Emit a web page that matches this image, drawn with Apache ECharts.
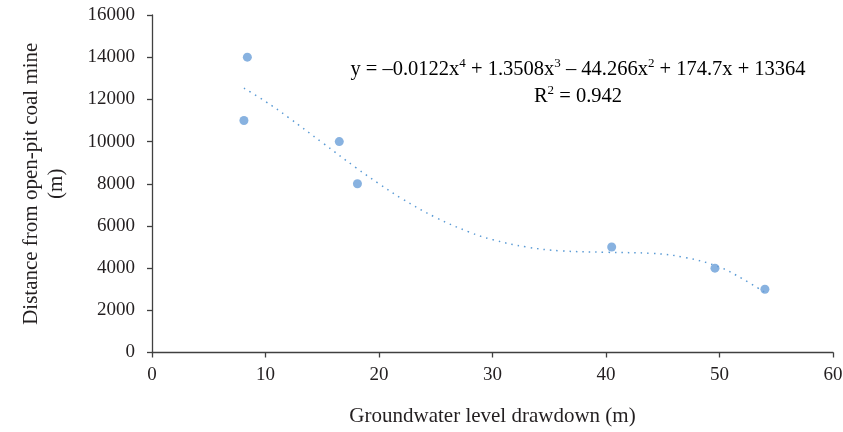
<!DOCTYPE html>
<html><head><meta charset="utf-8">
<script src="https://cdn.jsdelivr.net/npm/echarts@6/dist/echarts.min.js"></script>
<style>html,body{margin:0;padding:0;background:#fff}#c{width:843px;height:432px}</style>
</head><body><div id="c"></div>
<script>
// Observed points: groundwater drawdown (m) vs distance (m)
var drawdown = [8.4, 8.1, 16.5, 18.1, 40.5, 49.6, 54.0];
var distance = [14000, 11000, 10000, 8000, 5000, 4000, 3000];
// Trend curve
var trendX = [8.1, 10, 12, 15, 18, 20, 22, 25, 28, 30, 33, 36, 40, 44, 47, 50, 52, 54.0];
var trendY = [12530, 11900, 11150, 9950, 8750, 8000, 7300, 6400, 5700, 5350, 5000, 4820, 4750, 4700, 4500, 4050, 3500, 2850];
var xTicks = [0, 10, 20, 30, 40, 50, 60];
var yTicks = [0, 2000, 4000, 6000, 8000, 10000, 12000, 14000, 16000];
var xTitle = 'Groundwater level drawdown (m)';
var yTitle = 'Distance from open-pit coal mine\n(m)';

var font = '"Liberation Serif", "DejaVu Serif", serif';
var txt = '#231f20';
var chart = echarts.init(document.getElementById('c'), null, {renderer: 'canvas'});
var eqRich = {
  n: {fontSize: 20.5, fontFamily: font, color: txt, lineHeight: 24, verticalAlign: 'bottom'},
  s: {fontSize: 13, fontFamily: font, color: txt, lineHeight: 24, verticalAlign: 'top', padding: [1, 0, 0, 0]}
};
var equationRich = '{n|y = –0.0122x}{s|4}{n| + 1.3508x}{s|3}{n| – 44.266x}{s|2}{n| + 174.7x + 13364}';
var rRich = '{n|R}{s|2}{n| = 0.942}';
chart.setOption({
  animation: false,
  textStyle: {fontFamily: font},
  grid: {left: 152, right: 10, top: 15, bottom: 79.5, containLabel: false, outerBoundsMode: 'none'},
  xAxis: {
    type: 'value', min: xTicks[0], max: xTicks[xTicks.length - 1], interval: 10,
    splitLine: {show: false},
    axisLine: {onZero: false, lineStyle: {color: '#404040', width: 1.3}},
    axisTick: {show: true, length: 5, lineStyle: {color: '#404040', width: 1.3}},
    axisLabel: {color: txt, fontSize: 19, fontFamily: font, margin: 13},
    name: xTitle, nameLocation: 'middle', nameGap: 53,
    nameTextStyle: {color: txt, fontSize: 21, fontFamily: font}
  },
  yAxis: {
    type: 'value', min: yTicks[0], max: yTicks[yTicks.length - 1], interval: 2000,
    splitLine: {show: false},
    axisLine: {show: true, lineStyle: {color: '#404040', width: 1.3}},
    axisTick: {show: true, length: 5, lineStyle: {color: '#404040', width: 1.3}},
    axisLabel: {color: txt, fontSize: 19, fontFamily: font, margin: 17, formatter: function (v) { return String(v); }},
    name: yTitle, nameLocation: 'middle', nameGap: 83, nameRotate: 90,
    nameTextStyle: {color: txt, fontSize: 21, fontFamily: font, lineHeight: 25, align: 'center'}
  },
  series: [
    {
      type: 'line', data: trendX.map(function (x, i) { return [x, trendY[i]]; }),
      smooth: 0.4, showSymbol: false, symbol: 'none',
      lineStyle: {color: '#5b9bd5', width: 1.5, type: [1.5, 5]},
      z: 1
    },
    {
      type: 'scatter', data: drawdown.map(function (x, i) { return [x, distance[i]]; }),
      symbol: 'circle', symbolSize: 9,
      itemStyle: {color: '#6a9fd8'}, z: 3
    }
  ],
  graphic: [
    {type: 'text', x: 578, y: 68, style: {text: equationRich, rich: eqRich, align: 'center', verticalAlign: 'middle'}},
    {type: 'text', x: 578, y: 95, style: {text: rRich, rich: eqRich, align: 'center', verticalAlign: 'middle'}}
  ]
});
</script></body></html>
